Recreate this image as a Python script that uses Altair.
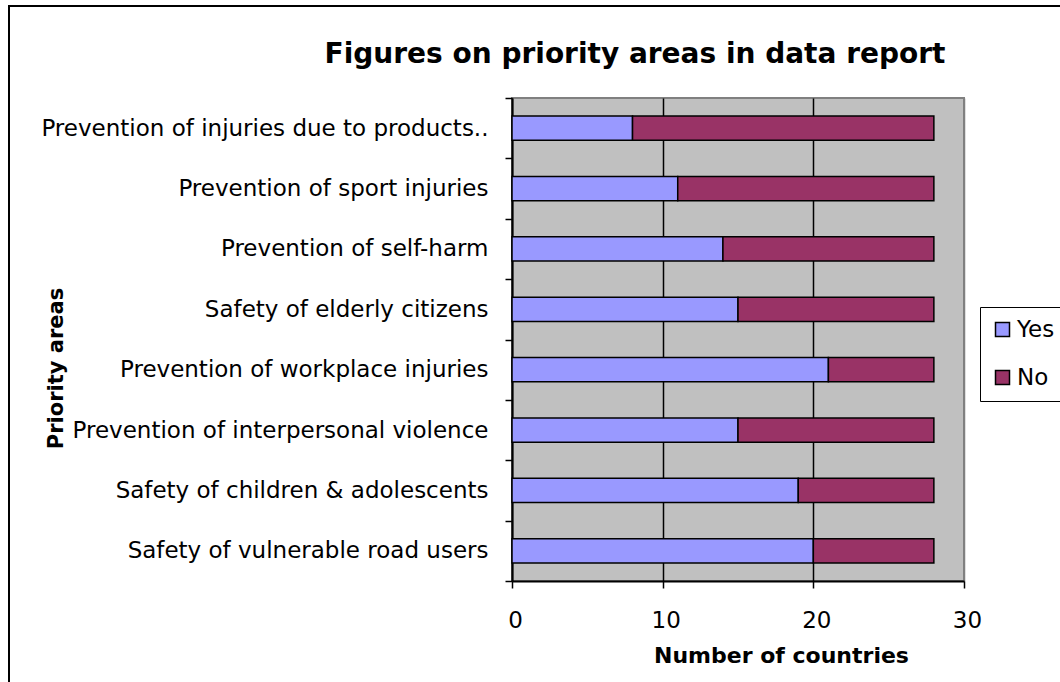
import altair as alt
import pandas as pd

# Priority areas, listed top to bottom
areas = [
    "Prevention of injuries due to products..",
    "Prevention of sport injuries",
    "Prevention of self-harm",
    "Safety of elderly citizens",
    "Prevention of workplace injuries",
    "Prevention of interpersonal violence",
    "Safety of children & adolescents",
    "Safety of vulnerable road users",
]
yes_counts = [8, 11, 14, 15, 21, 15, 19, 20]
no_counts = [20, 17, 14, 13, 7, 13, 9, 8]
answers = ["Yes", "No"]
answer_colors = ["#9999FF", "#993366"]
x_ticks = [0, 10, 20, 30]

rows = []
for area, y, n in zip(areas, yes_counts, no_counts):
    rows.append({"area": area, "answer": "Yes", "rank": 0, "count": y})
    rows.append({"area": area, "answer": "No", "rank": 1, "count": n})
df = pd.DataFrame(rows)

FONT = "DejaVu Sans"

bars = alt.Chart(df).mark_bar(
    stroke="black", strokeWidth=1.5, height={"band": 0.4}
).encode(
    y=alt.Y(
        "area:N",
        sort=areas,
        scale=alt.Scale(paddingInner=0, paddingOuter=0),
        axis=alt.Axis(
            title="Priority areas",
            titleFont=FONT,
            titleFontSize=21,
            titleFontWeight="bold",
            titleColor="black",
            titleAngle=270,
            titleAlign="center",
            titleBaseline="alphabetic",
            titleX=-450,
            titleY=270,
            labelFont=FONT,
            labelFontSize=23,
            labelColor="black",
            labelPadding=17,
            labelLimit=0,
            tickBand="extent",
            tickSize=7,
            tickColor="black",
            tickWidth=1.5,
            domainColor="black",
            domainWidth=2,
            grid=False,
        ),
    ),
    x=alt.X(
        "count:Q",
        stack="zero",
        scale=alt.Scale(domain=[0, 30], nice=False),
        axis=alt.Axis(
            title="Number of countries",
            titleFont=FONT,
            titleFontSize=22,
            titleFontWeight="bold",
            titleColor="black",
            titleAlign="center",
            titleBaseline="alphabetic",
            titleX=269,
            titleY=81,
            values=x_ticks,
            labelFont=FONT,
            labelFontSize=23,
            labelColor="black",
            labelPadding=21,
            labelOffset=3,
            labelFlush=False,
            tickSize=7,
            tickColor="black",
            tickWidth=1.5,
            domainColor="black",
            domainWidth=2,
            grid=True,
            gridColor={"condition": {"test": "datum.value === 30", "value": "#808080"}, "value": "black"},
            gridWidth=1.5,
        ),
    ),
    color=alt.Color(
        "answer:N",
        sort=answers,
        scale=alt.Scale(domain=answers, range=answer_colors),
        legend=alt.Legend(
            title=None,
            orient="none",
            legendX=468,
            legendY=209,
            symbolType="square",
            symbolSize=196,
            symbolStrokeColor="black",
            symbolStrokeWidth=1.5,
            labelFont=FONT,
            labelFontSize=23,
            labelColor="black",
            labelOffset=3,
            labelExpr="datum.label + '\u00a0\u00a0\u00a0'",
            rowPadding=24,
            padding=11,
            strokeColor="black",
            fillColor="white",
        ),
    ),
    order=alt.Order("rank:Q"),
)

# Outer frame around the whole figure
frame = alt.Chart(pd.DataFrame({"f": [0]})).mark_rect(
    fill=None, stroke="black", strokeWidth=2
).encode(
    x=alt.value(-503),
    x2=alt.value(560),
    y=alt.value(-92),
    y2=alt.value(600),
)

chart = alt.layer(frame, bars).properties(
    width=452,
    height=483,
    autosize=alt.AutoSizeParams(type="none"),
    padding={"left": 512, "top": 98, "right": 96, "bottom": 101},
    background="white",
    title=alt.TitleParams(
        "Figures on priority areas in data report",
        font=FONT,
        fontSize=28,
        fontWeight="bold",
        color="black",
        anchor="middle",
        dx=-103,
        offset=-86,
        baseline="alphabetic",
    ),
).configure_view(
    fill="#C0C0C0",
    stroke="#808080",
    strokeWidth=2,
)

chart.save("out.html", embed_options={"renderer": "svg", "actions": False})
